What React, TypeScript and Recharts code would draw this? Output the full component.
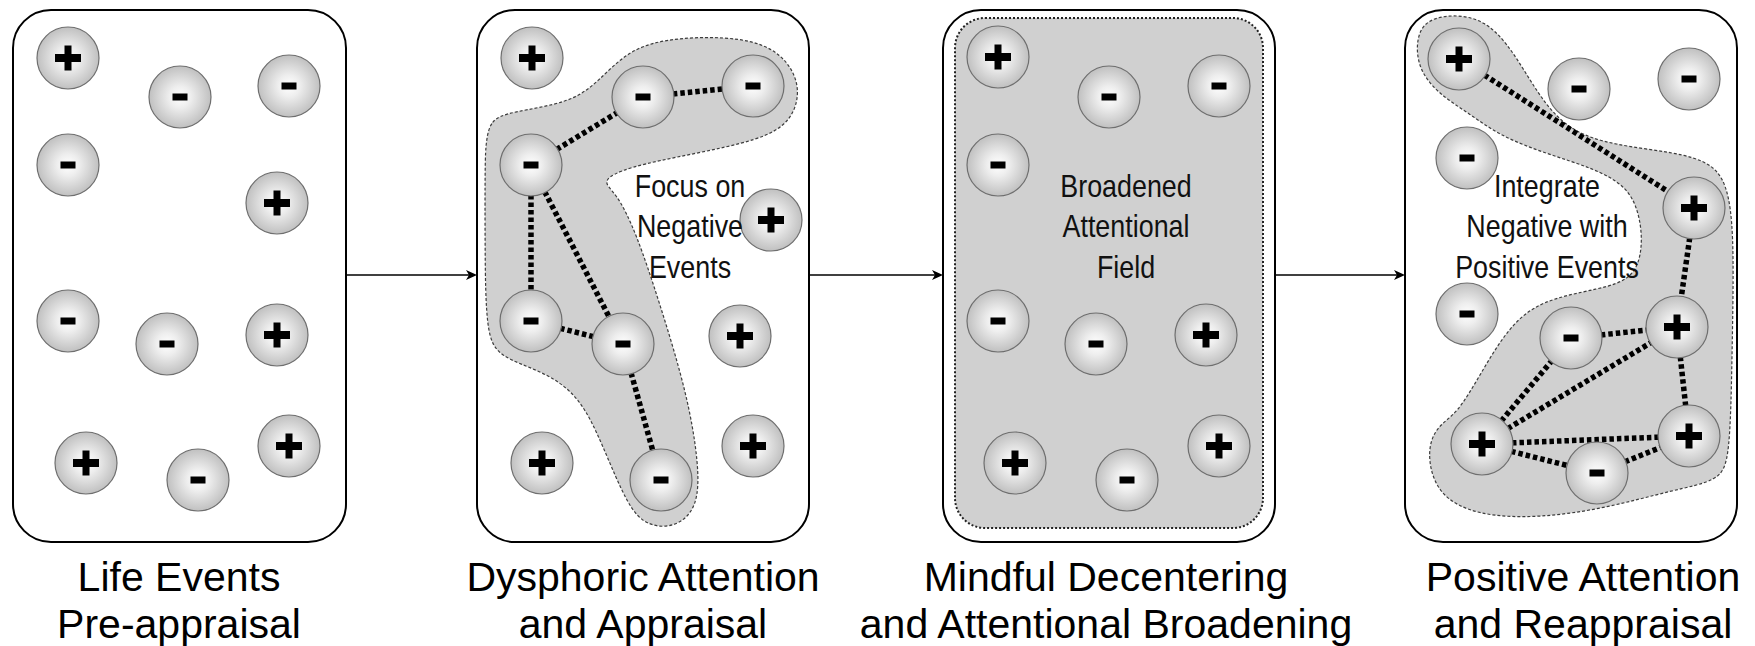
import React from "react";
import { ScatterChart, Scatter, XAxis, YAxis, Curve } from "recharts";

const W = 1755;
const H = 646;

// Panel frames (left/right edges, shared top/bottom)
const panelLeft = [13, 477, 943, 1405];
const panelRight = [346, 809, 1275, 1737];
const panelTop = 10;
const panelBottom = 542;

// Broadened attentional field inside panel 3
const fieldX = [955, 1263];
const fieldY = [18, 528];

// Arrows between panels
const arrowFrom = [346, 809, 1275];
const arrowTo = [477, 943, 1405];
const arrowY = 275;

// Event bubbles, one set per panel
const lifeX = [68, 180, 289, 68, 277, 68, 167, 277, 86, 198, 289];
const lifeY = [58, 97, 86, 165, 203, 321, 344, 335, 463, 480, 446];
const lifeSign = ["+", "-", "-", "-", "+", "-", "-", "+", "+", "-", "+"];

const dysX = [532, 643, 753, 531, 771, 531, 623, 740, 542, 661, 753];
const dysY = [58, 97, 86, 165, 220, 321, 344, 336, 463, 480, 446];
const dysSign = ["+", "-", "-", "-", "+", "-", "-", "+", "+", "-", "+"];

const mindX = [998, 1109, 1219, 998, 998, 1096, 1206, 1015, 1127, 1219];
const mindY = [57, 97, 86, 165, 321, 344, 335, 463, 480, 446];
const mindSign = ["+", "-", "-", "-", "-", "-", "+", "+", "-", "+"];

const posX = [1459, 1579, 1689, 1467, 1694, 1467, 1571, 1677, 1482, 1597, 1689];
const posY = [59, 89, 79, 158, 208, 314, 338, 327, 444, 473, 436];
const posSign = ["+", "-", "-", "-", "+", "-", "-", "+", "+", "-", "+"];

// Dotted links (index pairs into the panel's bubbles)
const dysLinks = [[3, 1], [1, 2], [3, 5], [3, 6], [5, 6], [6, 9]];
const posLinks = [[0, 4], [4, 7], [6, 7], [8, 6], [8, 7], [8, 10], [8, 9], [9, 10], [7, 10]];

// Shaded focus regions (outline control points)
const dysBlobX = [486, 490, 510, 570, 598, 630, 677, 743, 782, 802, 792, 760, 693, 627, 600, 616, 636, 660, 687, 699, 698, 675, 647, 628, 603, 580, 543, 498, 486, 485, 485];
const dysBlobY = [143, 120, 112, 103, 82, 48, 37, 37, 52, 86, 122, 140, 154, 167, 181, 192, 232, 304, 393, 464, 508, 528, 526, 507, 446, 396, 371, 357, 332, 250, 161];

const posBlobX = [1416, 1426, 1457, 1485, 1507, 1527, 1547, 1573, 1613, 1673, 1715, 1730, 1734, 1732, 1730, 1719, 1673, 1607, 1540, 1478, 1436, 1426, 1438, 1457, 1480, 1507, 1540, 1600, 1633, 1643, 1640, 1627, 1593, 1547, 1500, 1470, 1437, 1418];
const posBlobY = [39, 19, 14, 21, 43, 75, 107, 132, 145, 152, 163, 193, 250, 357, 459, 481, 490, 508, 518, 516, 495, 450, 425, 414, 375, 329, 300, 289, 279, 250, 214, 186, 168, 154, 136, 114, 93, 68];

// In-panel captions
const focusLines = ["Focus on", "Negative", "Events"];
const broadLines = ["Broadened", "Attentional", "Field"];
const integrateLines = ["Integrate", "Negative with", "Positive Events"];
const captionX = [690, 1126, 1547];
const captionY = [197, 237, 278];

// Stage labels under the panels
const stageX = [179, 643, 1106, 1583];
const stageLine1 = ["Life Events", "Dysphoric Attention", "Mindful Decentering", "Positive Attention"];
const stageLine2 = ["Pre-appraisal", "and Appraisal", "and Attentional Broadening", "and Reappraisal"];
const stageY = [591, 638];

const toBubbles = (xs: number[], ys: number[], signs: string[]) =>
  xs.map((x, i) => ({ x, y: ys[i], sign: signs[i] }));
const toOutline = (xs: number[], ys: number[]) => xs.map((x, i) => ({ x, y: ys[i] }));

const lifeData = toBubbles(lifeX, lifeY, lifeSign);
const dysData = toBubbles(dysX, dysY, dysSign);
const mindData = toBubbles(mindX, mindY, mindSign);
const posData = toBubbles(posX, posY, posSign);

const NONE = () => <g />;

function Bubble(props: any) {
  const { cx, cy, payload } = props;
  return (
    <g>
      <circle cx={cx} cy={cy} r={31} fill="url(#bubbleFill)" stroke="#6e6e6e" strokeWidth={1.2} />
      {payload.sign === "+" ? (
        <path
          d={`M${cx - 13},${cy - 4}h26v8h-26z M${cx - 3.5},${cy - 12.5}h7v25h-7z`}
          fill="#000"
        />
      ) : (
        <rect x={cx - 7.5} y={cy - 3.5} width={15} height={7} fill="#000" />
      )}
    </g>
  );
}

const frameLine = (rx: number, extra: any) => (lp: any) => {
  const [a, b] = lp.points;
  return (
    <rect
      x={a.x}
      y={a.y}
      width={b.x - a.x}
      height={b.y - a.y}
      rx={rx}
      ry={rx}
      {...extra}
    />
  );
};

const linkLine = (lp: any) => {
  const [a, b] = lp.points;
  return (
    <line x1={a.x} y1={a.y} x2={b.x} y2={b.y} stroke="#000" strokeWidth={5.5} strokeDasharray="4.5 3" />
  );
};

const arrowLine = (lp: any) => {
  const [a, b] = lp.points;
  return (
    <g>
      <line x1={a.x} y1={a.y} x2={b.x - 8} y2={b.y} stroke="#000" strokeWidth={1.5} />
      <path d={`M${b.x},${b.y} L${b.x - 11},${b.y - 5} L${b.x - 8},${b.y} L${b.x - 11},${b.y + 5} Z`} fill="#000" />
    </g>
  );
};

const blobLine = (lp: any) => (
  <Curve
    points={lp.points}
    type="basisClosed"
    fill="#d0d0d0"
    stroke="#3c3c3c"
    strokeWidth={1.2}
    strokeDasharray="3 2"
  />
);

// condensed caption font, emulated by squeezing Liberation Sans horizontally
const captionShape = (props: any) => (
  <text
    transform={`translate(${props.cx},${props.cy}) scale(0.84,1)`}
    textAnchor="middle"
    fontFamily="'Liberation Sans', Arial, sans-serif"
    fontSize={32}
    fill="#111"
  >
    {props.payload.text}
  </text>
);

const stageShape = (props: any) => (
  <text
    x={props.cx}
    y={props.cy}
    textAnchor="middle"
    fontFamily="'Liberation Sans', Arial, sans-serif"
    fontSize={41}
    fill="#000"
  >
    {props.payload.text}
  </text>
);

const captionData = [focusLines, broadLines, integrateLines].flatMap((lines, p) =>
  lines.map((text, i) => ({ x: captionX[p], y: captionY[i], text }))
);
const stageData = stageX.flatMap((x, i) => [
  { x, y: stageY[0], text: stageLine1[i] },
  { x, y: stageY[1], text: stageLine2[i] },
]);

export default function App() {
  return (
    <div style={{ position: "absolute", left: 0, top: 0, width: W, height: H, background: "#fff" }}>
      <ScatterChart width={W} height={H} margin={{ top: 0, right: 0, bottom: 0, left: 0 }}>
        <defs>
          <radialGradient id="bubbleFill" cx="50%" cy="50%" r="50%">
            <stop offset="0%" stopColor="#ffffff" />
            <stop offset="35%" stopColor="#eeeeee" />
            <stop offset="100%" stopColor="#c0c0c0" />
          </radialGradient>
        </defs>
        <XAxis type="number" dataKey="x" domain={[0, W]} allowDataOverflow hide />
        <YAxis type="number" dataKey="y" domain={[0, H]} allowDataOverflow reversed hide />

        {panelLeft.map((left, i) => (
          <Scatter
            key={`panel-${i}`}
            data={[{ x: left, y: panelTop }, { x: panelRight[i], y: panelBottom }]}
            shape={NONE}
            line={frameLine(38, { fill: "#fff", stroke: "#000", strokeWidth: 2 })}
            isAnimationActive={false}
          />
        ))}
        <Scatter
          data={[{ x: fieldX[0], y: fieldY[0] }, { x: fieldX[1], y: fieldY[1] }]}
          shape={NONE}
          line={frameLine(30, { fill: "#d0d0d0", stroke: "#222", strokeWidth: 2, strokeDasharray: "2 2" })}
          isAnimationActive={false}
        />

        <Scatter data={toOutline(dysBlobX, dysBlobY)} shape={NONE} line={blobLine} isAnimationActive={false} />
        <Scatter data={toOutline(posBlobX, posBlobY)} shape={NONE} line={blobLine} isAnimationActive={false} />

        {dysLinks.map(([a, b], i) => (
          <Scatter key={`dl-${i}`} data={[dysData[a], dysData[b]]} shape={NONE} line={linkLine} isAnimationActive={false} />
        ))}
        {posLinks.map(([a, b], i) => (
          <Scatter key={`pl-${i}`} data={[posData[a], posData[b]]} shape={NONE} line={linkLine} isAnimationActive={false} />
        ))}

        {arrowFrom.map((from, i) => (
          <Scatter
            key={`arrow-${i}`}
            data={[{ x: from, y: arrowY }, { x: arrowTo[i], y: arrowY }]}
            shape={NONE}
            line={arrowLine}
            isAnimationActive={false}
          />
        ))}

        <Scatter data={lifeData} shape={Bubble} isAnimationActive={false} />
        <Scatter data={dysData} shape={Bubble} isAnimationActive={false} />
        <Scatter data={mindData} shape={Bubble} isAnimationActive={false} />
        <Scatter data={posData} shape={Bubble} isAnimationActive={false} />

        <Scatter data={captionData} shape={captionShape} isAnimationActive={false} />
        <Scatter data={stageData} shape={stageShape} isAnimationActive={false} />
      </ScatterChart>
    </div>
  );
}
